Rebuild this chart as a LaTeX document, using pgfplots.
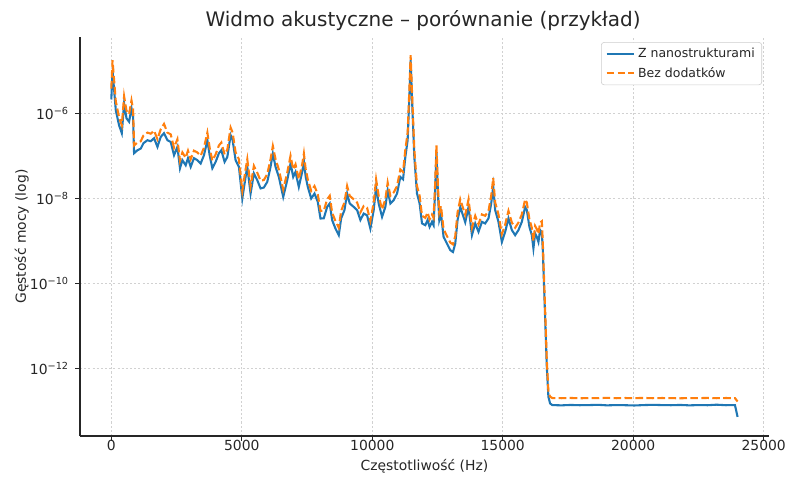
\documentclass[border=0pt]{standalone}
\usepackage{fontspec}
\setmainfont{DejaVu Sans}
\usepackage{pgfplots}
\pgfplotsset{compat=1.18}
\usepackage{pgfplotstable}
\definecolor{mplblue}{HTML}{1F77B4}
\definecolor{mplorange}{HTML}{FF7F0E}
\definecolor{txt}{HTML}{262626}
\pgfplotstableread{
f a b
0 2.10e-6 3.8e-6
47 1.0e-5 1.75e-5
172 1.17e-6 1.9e-6
298 5.2e-7 8.0e-7
402 3.4e-7 5.2e-7
490 1.69e-6 2.5e-6
582 7.6e-7 1.15e-6
681 6.3e-7 9.5e-7
773 1.31e-6 2.0e-6
834 8.2e-7 1.25e-6
872 1.15e-7 1.75e-7
1002 1.35e-7 2.05e-7
1129 1.48e-7 2.2e-7
1232 1.98e-7 3.0e-7
1385 2.32e-7 3.5e-7
1511 2.2e-7 3.3e-7
1638 2.59e-7 3.9e-7
1768 1.62e-7 2.45e-7
1894 2.78e-7 4.2e-7
2020 3.4e-7 5.6e-7
2150 2.32e-7 3.5e-7
2276 2.12e-7 3.2e-7
2403 1.03e-7 1.55e-7
2533 1.62e-7 2.45e-7
2632 5.1e-8 7.7e-8
2724 7.9e-8 1.2e-7
2850 6.0e-8 9.0e-8
2938 8.8e-8 1.32e-7
3042 5.5e-8 8.3e-8
3168 8.8e-8 1.32e-7
3298 7.9e-8 1.2e-7
3424 6.6e-8 1.0e-7
3551 1.03e-7 1.55e-7
3681 2.32e-7 3.5e-7
3769 1.03e-7 1.55e-7
3872 5.1e-8 7.7e-8
3998 7.2e-8 1.08e-7
4124 1.15e-7 1.75e-7
4216 1.35e-7 2.05e-7
4342 7.2e-8 1.08e-7
4446 9.4e-8 1.4e-7
4572 3.05e-7 4.6e-7
4649 2.32e-7 3.5e-7
4763 7.9e-8 1.2e-7
4890 5.5e-8 8.3e-8
5020 9.95e-9 1.5e-8
5146 3.2e-8 4.8e-8
5211 5.5e-8 8.3e-8
5337 1.30e-8 1.95e-8
5464 3.85e-8 5.8e-8
5594 2.67e-8 4.0e-8
5720 1.71e-8 2.6e-8
5846 1.8e-8 2.7e-8
5976 2.44e-8 3.7e-8
6102 5.5e-8 8.3e-8
6190 1.13e-7 1.7e-7
6294 5.5e-8 8.3e-8
6420 3.2e-8 4.8e-8
6588 1.08e-8 1.62e-8
6741 2.67e-8 4.0e-8
6868 6.6e-8 1.0e-7
6971 3.2e-8 4.8e-8
7059 4.19e-8 6.3e-8
7185 1.86e-8 2.8e-8
7315 4.19e-8 6.3e-8
7380 7.5e-8 1.13e-7
7450 3.2e-8 4.8e-8
7530 1.86e-8 2.8e-8
7660 9.95e-9 1.5e-8
7786 1.30e-8 1.95e-8
7912 8.3e-9 1.25e-8
8016 3.37e-9 5.1e-9
8142 3.4e-9 5.1e-9
8272 6.3e-9 9.5e-9
8371 7.6e-9 1.15e-8
8463 3.08e-9 4.6e-9
8589 1.96e-9 2.95e-9
8716 1.37e-9 2.05e-9
8808 3.4e-9 5.1e-9
8934 5.3e-9 8.0e-9
9037 1.30e-8 1.95e-8
9136 7.6e-9 1.15e-8
9290 6.3e-9 9.5e-9
9420 5.3e-9 8.0e-9
9546 3.1e-9 4.7e-9
9672 4.4e-9 6.6e-9
9802 4.0e-9 6.0e-9
9928 1.96e-9 2.95e-9
10055 5.3e-9 8.0e-9
10147 1.86e-8 2.8e-8
10246 7.6e-9 1.15e-8
10376 3.68e-9 5.5e-9
10502 6.3e-9 9.5e-9
10591 1.56e-8 2.35e-8
10694 7.6e-9 1.15e-8
10820 9.1e-9 1.37e-8
10950 1.30e-8 1.95e-8
11076 3.2e-8 4.8e-8
11180 2.8e-8 4.2e-8
11268 9.4e-8 1.4e-7
11356 2.32e-7 3.5e-7
11432 3.47e-6 5.2e-6
11470 1.75e-5 2.3e-5
11535 1.41e-6 2.1e-6
11612 9.4e-8 1.4e-7
11715 1.30e-8 1.95e-8
11815 7.6e-9 1.15e-8
11907 2.58e-9 3.9e-9
12033 2.35e-9 3.5e-9
12121 3.1e-9 4.7e-9
12197 2.14e-9 3.2e-9
12289 2.81e-9 4.2e-9
12350 2.35e-9 3.5e-9
12410 1.5e-8 2.2e-8
12460 1.22e-7 1.77e-7
12520 1.2e-8 1.8e-8
12568 3.1e-9 4.7e-9
12634 4.4e-9 6.6e-9
12733 1.25e-9 1.9e-9
12863 8.7e-10 1.3e-9
12989 6.1e-10 9.2e-10
13093 5.5e-10 8.3e-10
13181 8.7e-10 1.3e-9
13269 3.1e-9 4.7e-9
13372 6.3e-9 9.5e-9
13563 2.76e-9 4.1e-9
13690 6.3e-9 9.5e-9
13820 1.37e-9 2.05e-9
13946 2.58e-9 3.9e-9
14072 1.64e-9 2.45e-9
14202 2.81e-9 4.2e-9
14328 2.58e-9 3.9e-9
14455 3.4e-9 5.1e-9
14558 7.6e-9 1.15e-8
14635 1.9e-8 3.0e-8
14711 5.3e-9 8.0e-9
14837 2.81e-9 4.2e-9
14967 9.5e-10 1.45e-9
15094 1.64e-9 2.45e-9
15220 3.4e-9 5.1e-9
15350 1.80e-9 2.7e-9
15476 1.37e-9 2.05e-9
15602 1.80e-9 2.7e-9
15732 2.81e-9 4.2e-9
15859 6.3e-9 9.5e-9
15924 5.3e-9 8.0e-9
16023 2.14e-9 3.2e-9
16115 1.37e-9 2.05e-9
16176 6.7e-10 1.0e-9
16241 1.5e-9 2.25e-9
16306 1.25e-9 1.9e-9
16368 9.5e-10 1.45e-9
16433 1.80e-9 2.7e-9
16498 1.61e-9 2.9e-9
16536 6.1e-10 9.2e-10
16624 1.65e-11 2.5e-11
16689 1.11e-12 1.6e-12
16750 2.19e-13 3.0e-13
16815 1.53e-13 2.2e-13
16900 1.40e-13 2.05e-13
17250 1.38e-13 2.03e-13
17600 1.41e-13 2.06e-13
17950 1.39e-13 2.02e-13
18300 1.40e-13 2.05e-13
18650 1.42e-13 2.04e-13
19000 1.38e-13 2.07e-13
19350 1.40e-13 2.03e-13
19700 1.39e-13 2.05e-13
20050 1.37e-13 2.04e-13
20400 1.40e-13 2.06e-13
20750 1.42e-13 2.03e-13
21100 1.40e-13 2.05e-13
21450 1.39e-13 2.04e-13
21800 1.41e-13 2.02e-13
22150 1.38e-13 2.05e-13
22500 1.40e-13 2.04e-13
22850 1.39e-13 2.06e-13
23200 1.43e-13 2.03e-13
23550 1.39e-13 2.05e-13
23900 1.40e-13 2.04e-13
24000 7.4e-14 1.7e-13
}\spectrum
\begin{document}
\begin{tikzpicture}
\useasboundingbox (-57.6bp,-37.44bp) rectangle (518.4bp,313.92bp);
\begin{axis}[
  at={(0,0)}, anchor=south west,
  scale only axis, width=496bp, height=287.3bp,
  xmin=-1200, xmax=25200,
  ymode=log, ymin=2.63e-14, ymax=6.17e-5,
  axis x line*=bottom, axis y line*=left,
  axis line style={-, txt, line width=0.8bp},
  tick align=outside, major tick length=3.5bp,
  tick style={txt, line width=0.8bp},
  scaled x ticks=false,
  xtick={0,5000,10000,15000,20000,25000},
  xticklabels={0,5000,10000,15000,20000,25000},
  ytick={1e-12,1e-10,1e-8,1e-6},
  yticklabels={10\textsuperscript{−12},10\textsuperscript{−10},10\textsuperscript{−8},10\textsuperscript{−6}},
  yminorticks=false,
  ticklabel style={font=\fontsize{10bp}{12bp}\selectfont, text=txt},
  xticklabel style={anchor=base, yshift=-7bp},
  yticklabel style={anchor=east, xshift=-1bp},
  grid=major,
  major grid style={dash pattern=on 1.5bp off 1.5bp, black!18, line width=0.5bp},
  legend style={at={(0.99,0.987)}, anchor=north east, draw=black!20, rounded corners=2bp,
    fill=white, font=\fontsize{9bp}{11bp}\selectfont, text=txt,
    inner xsep=3bp, inner ysep=2bp, row sep=1.5bp},
  legend cell align=left,
  legend image code/.code={\draw[#1] (0bp,0bp) -- (20bp,0bp);},
]
\addplot[mplblue, line width=1.5bp] table[x=f, y=a] {\spectrum};
\addlegendentry{Z nanostrukturami}
\addplot[mplorange, line width=1.5bp, dash pattern=on 5.5bp off 2.4bp] table[x=f, y=b] {\spectrum};
\addlegendentry{Bez dodatków}
\end{axis}
\node[rotate=90, anchor=base, font=\fontsize{10bp}{12bp}\selectfont, text=txt] at (-38.9bp,143.6bp) {Gęstość mocy (log)};
\node[anchor=base, font=\fontsize{10bp}{12bp}\selectfont, text=txt] at (248bp,-24.5bp) {Częstotliwość (Hz)};
\node[anchor=base, font=\fontsize{14.4bp}{17bp}\selectfont, text=txt] at (247bp,294.5bp) {Widmo akustyczne – porównanie (przykład)};
\end{tikzpicture}
\end{document}
